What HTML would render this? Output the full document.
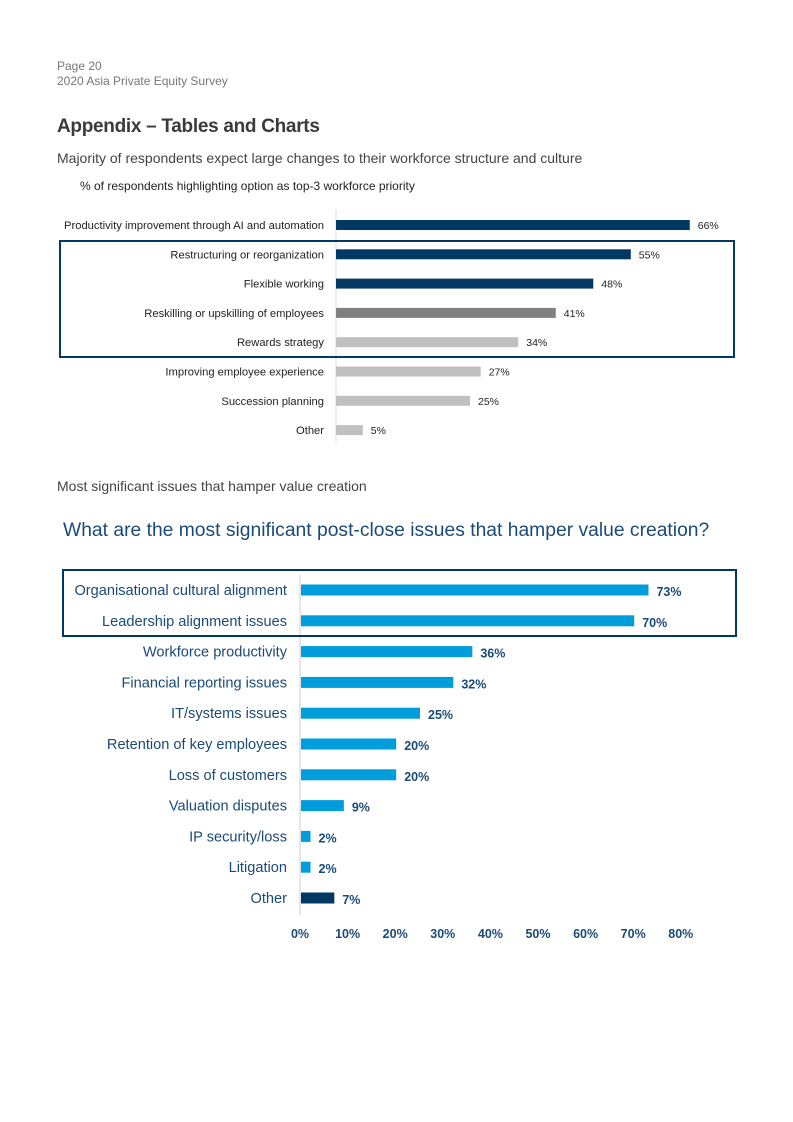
<!DOCTYPE html>
<html><head><meta charset="utf-8"><style>
body{margin:0;width:793px;height:1122px;background:#fff;position:relative;font-family:"Liberation Sans","DejaVu Sans",sans-serif;overflow:hidden}
.t{position:absolute;white-space:nowrap}
</style></head><body>
<div class="t" style="left:57px;top:59px;font-size:12px;color:#777">Page 20</div>
<div class="t" style="left:57px;top:74px;font-size:12px;color:#777">2020 Asia Private Equity Survey</div>
<div class="t" style="left:57px;top:116px;font-size:19px;font-weight:bold;color:#3a3a3a;letter-spacing:-0.3px">Appendix – Tables and Charts</div>
<div class="t" style="left:57px;top:150px;font-size:14px;color:#444">Majority of respondents expect large changes to their workforce structure and culture</div>
<div class="t" style="left:80px;top:179px;font-size:12px;color:#222">% of respondents highlighting option as top-3 workforce priority</div>
<div class="t" style="left:57px;top:478px;font-size:14px;color:#444">Most significant issues that hamper value creation</div>
<div class="t" style="left:63px;top:520px;font-size:19.3px;color:#1a4a78">What are the most significant post-close issues that hamper value creation?</div>
<svg id="c1" width="793" height="1122" style="position:absolute;left:0;top:0"></svg>
<script>
const cats1=["Productivity improvement through AI and automation","Restructuring or reorganization","Flexible working","Reskilling or upskilling of employees","Rewards strategy","Improving employee experience","Succession planning","Other"];
const vals1=[66,55,48,41,34,27,25,5];
const cols1=["#023864","#023864","#023864","#808080","#c0c0c0","#c0c0c0","#c0c0c0","#c0c0c0"];
const cats2=["Organisational cultural alignment","Leadership alignment issues","Workforce productivity","Financial reporting issues","IT/systems issues","Retention of key employees","Loss of customers","Valuation disputes","IP security/loss","Litigation","Other"];
const vals2=[73,70,36,32,25,20,20,9,2,2,7];
const ticks2=[0,10,20,30,40,50,60,70,80];
const NS="http://www.w3.org/2000/svg";
const svg=document.getElementById('c1');
function mk(t,a,txt){const e=document.createElementNS(NS,t);for(const k in a)e.setAttribute(k,a[k]);if(txt!=null)e.textContent=txt;svg.appendChild(e);return e;}
const x1=v=>336+v*5.36, y1=i=>225+i*29.3;
let e=mk('line',{x1:336,y1:210,x2:336,y2:442,stroke:'#ddd'});

cats1.forEach((c,i)=>{
 let r=mk('rect',{x:336,y:y1(i)-5,width:x1(vals1[i])-336,height:10,fill:cols1[i]});
 
 let l=mk('text',{x:324,y:y1(i)+4,'text-anchor':'end','font-size':11.2,fill:'#222'},c);
 
 let v=mk('text',{x:x1(vals1[i])+8,y:y1(i)+4,'font-size':10.5,fill:'#222'},vals1[i]+'%');
 
});
e=mk('rect',{x:60,y:241,width:674,height:116,fill:'none',stroke:'#023864','stroke-width':2});

const x2=v=>300+v*4.76, y2=i=>590+i*30.8;
e=mk('line',{x1:300,y1:575,x2:300,y2:915,stroke:'#ccc'});

cats2.forEach((c,i)=>{
 let r=mk('rect',{x:301,y:y2(i)-5.5,width:x2(vals2[i])-300,height:11,fill:i==cats2.length-1?'#023864':'#009ddc'});
 
 let l=mk('text',{x:287,y:y2(i)+5,'text-anchor':'end','font-size':14.6,fill:'#1a4a78'},c);
 
 let v=mk('text',{x:x2(vals2[i])+9,y:y2(i)+6,'font-size':12.5,'font-weight':'bold',fill:'#1a4a78'},vals2[i]+'%');
 
});
ticks2.forEach(t=>{
 let tx=mk('text',{x:x2(t),y:938,'text-anchor':'middle','font-size':12.5,'font-weight':'bold',fill:'#1a4a78'},t+'%');
 
});
e=mk('rect',{x:63,y:570,width:673,height:66,fill:'none',stroke:'#023864','stroke-width':2});

</script>
</body></html>
